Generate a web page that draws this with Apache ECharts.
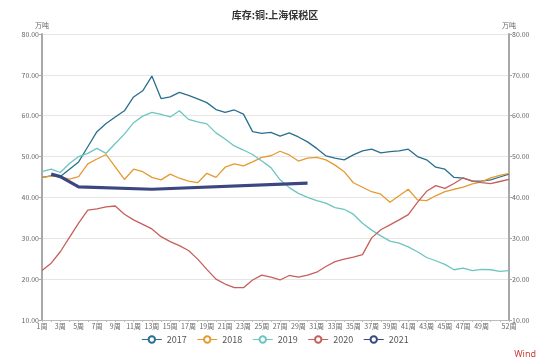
<!DOCTYPE html>
<html>
<head>
<meta charset="utf-8">
<script src="https://cdn.jsdelivr.net/npm/echarts@6/dist/echarts.min.js"></script>
<style>html,body{margin:0;padding:0;background:#fff}#c{width:550px;height:363px}</style>
</head>
<body>
<div id="c"></div>
<script>
var weeks = [];
for (var i = 1; i <= 52; i++) weeks.push(i + '周');
var yTicks = [10, 20, 30, 40, 50, 60, 70, 80];
var s2017 = [44.9,45.3,45.1,46.9,48.7,52.4,56.1,58.1,59.7,61.2,64.6,66.1,69.7,64.2,64.6,65.7,65.0,64.1,63.2,61.5,60.8,61.4,60.4,56.1,55.7,55.9,55.0,55.8,54.8,53.6,52.0,50.2,49.6,49.2,50.4,51.4,51.8,50.9,51.2,51.4,51.8,50.0,49.2,47.4,46.9,44.9,44.7,44.0,44.0,44.3,45.0,45.7];
var s2018 = [44.9,45.2,45.1,44.5,45.1,48.2,49.4,50.5,47.5,44.4,46.9,46.3,44.9,44.3,45.7,44.7,44.0,43.6,45.9,44.9,47.4,48.2,47.7,48.7,49.8,50.2,51.3,50.4,48.9,49.6,49.8,49.2,47.9,46.3,43.6,42.5,41.4,40.8,38.8,40.4,42.0,39.4,39.2,40.4,41.4,42.0,42.5,43.3,43.8,44.8,45.4,45.9];
var s2019 = [46.3,46.9,46.1,48.3,50.0,50.8,52.0,50.8,53.2,55.5,58.3,59.9,60.8,60.3,59.7,61.2,59.1,58.5,58.0,55.8,54.3,52.6,51.6,50.5,48.9,47.3,44.3,42.4,41.0,40.0,39.2,38.6,37.5,37.1,35.9,33.7,32.0,30.6,29.3,28.8,27.9,26.7,25.3,24.5,23.6,22.3,22.7,22.1,22.4,22.3,21.9,22.1];
var s2020 = [22.1,23.9,26.7,30.2,33.7,36.9,37.2,37.7,37.9,35.9,34.5,33.4,32.3,30.4,29.2,28.2,27.0,24.9,22.4,20.0,18.8,17.9,17.9,19.8,21.0,20.5,19.8,20.9,20.5,21.0,21.7,23.1,24.3,24.9,25.4,26.0,30.1,32.1,33.3,34.5,35.8,38.8,41.5,42.9,42.2,43.4,44.8,44.0,43.6,43.4,43.9,44.4];
var s2021 = [null,45.7,45.1,null,42.6,null,null,null,null,null,null,null,42.0,null,null,null,null,null,null,null,null,null,null,null,null,null,null,null,null,43.5,null,null,null,null,null,null,null,null,null,null,null,null,null,null,null,null,null,null,null,null,null,null];
var seriesNames = ['2017', '2018', '2019', '2020', '2021'];
var seriesData = [s2017, s2018, s2019, s2020, s2021];
var colors = ['#2a6f8f', '#e59a32', '#6cc6c0', '#c75f5a', '#3b4780'];
var widths = [1.3, 1.3, 1.3, 1.3, 3.2];

var chart = echarts.init(document.getElementById('c'), null, {renderer: 'canvas'});
var labelStyle = {color: '#666', fontSize: 7, fontFamily: 'Noto Sans CJK SC'};
function yAxis(pos) {
  return {
    type: 'value', position: pos, min: yTicks[0], max: yTicks[yTicks.length - 1], interval: 10,
    name: '万吨', nameLocation: 'end', nameGap: 5,
    nameTextStyle: {color: '#666', fontSize: 7, fontFamily: 'Noto Sans CJK SC'},
    axisLine: {show: true, lineStyle: {color: '#a8a8a8', width: 2}},
    axisTick: {show: true, length: 3, lineStyle: {color: '#a8a8a8'}},
    axisLabel: Object.assign({margin: 3, formatter: function (v) { return v.toFixed(2); }}, labelStyle),
    splitLine: {show: pos === 'left', lineStyle: {color: '#e6e6e6', width: 1}}
  };
}
chart.setOption({
  animation: false,
  color: colors,
  title: {text: '库存:铜:上海保税区', left: 'center', top: 5,
    textStyle: {fontSize: 10, fontWeight: 'bold', color: '#333', fontFamily: 'Noto Sans CJK SC'}},
  grid: {left: 42, right: 41, top: 34, bottom: 43},
  legend: {
    data: seriesNames, bottom: 14, left: 'center', itemWidth: 20, itemHeight: 8, itemGap: 10,
    itemStyle: {borderWidth: 1.2},
    lineStyle: {width: 1},
    textStyle: {color: '#555', fontSize: 9, fontFamily: 'Noto Sans CJK SC'}
  },
  xAxis: {
    type: 'category', data: weeks, boundaryGap: false,
    axisLine: {lineStyle: {color: '#bbb'}},
    axisTick: {show: true, length: 2, lineStyle: {color: '#bbb'}, interval: 0},
    axisLabel: Object.assign({margin: 3, interval: function (idx) { return (idx % 2 === 0 && idx <= 48) || idx === 51; }}, labelStyle)
  },
  yAxis: [yAxis('left'), yAxis('right')],
  graphic: [{type: 'text', right: 14, bottom: 4,
    style: {text: 'Wind', fill: '#c9403a', fontSize: 9, fontFamily: 'Noto Sans'}}],
  series: seriesNames.map(function (n, i) {
    return {
      name: n, type: 'line', data: seriesData[i], yAxisIndex: 0,
      symbol: 'emptyCircle', symbolSize: 7, showSymbol: false, connectNulls: true,
      lineStyle: {width: widths[i], color: colors[i]},
      itemStyle: {color: colors[i]},
      z: i === 4 ? 10 : 2
    };
  })
});
</script>
</body>
</html>
